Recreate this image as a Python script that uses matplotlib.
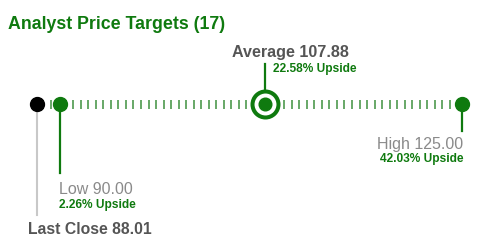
import numpy as np
from matplotlib import pyplot as plt

plt.rcParams['font.family'] = ['Liberation Sans', 'DejaVu Sans']

# price target data
labels = ["Last Close", "Low", "Average", "High"]
prices = [88.01, 90.00, 107.88, 125.00]
upside = [None, "2.26% Upside", "22.58% Upside", "42.03% Upside"]
n_targets = 17

green = "#0f7a0f"
tick_green = "#4e9a4e"
dark = "#555555"
grey = "#8a8a8a"

fig = plt.figure(figsize=(4.8, 2.53), dpi=100)
ax = fig.add_axes([0, 0, 1, 1])
# x in price units, y in pixels from the top
ax.set_xlim(84.814, 126.553)
ax.set_ylim(253, 0)
ax.axis("off")

ybar = 105
last, low, avg, high = prices

# dashed scale
ticks = np.linspace(88.553, 123.94, 55)
ax.vlines(ticks, ybar - 4.5, ybar + 4.5, color=tick_green, lw=1.2, zorder=1)

# stems
ax.plot([last, last], [ybar, 216], color="#c8c8c8", lw=1.5, zorder=2)
ax.plot([low, low], [ybar, 174], color=green, lw=1.6, zorder=2)
ax.plot([avg, avg], [ybar, 65], color=green, lw=1.6, zorder=2)
ax.plot([high, high], [ybar, 132], color=green, lw=1.6, zorder=2)

# markers
ax.plot(last, ybar, "o", color="black", ms=10, zorder=3)
ax.plot(low, ybar, "o", color=green, ms=10, zorder=3)
ax.plot(high, ybar, "o", color=green, ms=10, zorder=3)
ax.plot(avg, ybar, "o", mfc="white", mec=green, mew=2.9, ms=18.7, zorder=3)
ax.plot(avg, ybar, "o", color=green, ms=9.1, zorder=4)

def label(x, dx, y, s, **kw):
    ax.annotate(s, xy=(x, ybar), xytext=(dx, ybar - y),
                textcoords="offset pixels", va="baseline", **kw)

fig.text(8 / 480, 1 - 29 / 253, "Analyst Price Targets (%d)" % n_targets,
         fontsize=12.8, fontweight="bold", color=green, va="baseline")

label(avg, -33, 57, "Average %.2f" % avg, fontsize=11.6, fontweight="bold", color=dark)
label(avg, 8, 72, upside[2], fontsize=8.6, fontweight="bold", color=green)

label(high, 1, 149, "High %.2f" % high, fontsize=11.5, color=grey, ha="right")
label(high, 1, 162, upside[3], fontsize=8.6, fontweight="bold", color=green, ha="right")

label(low, -1, 194, "Low %.2f" % low, fontsize=11.5, color=grey)
label(low, -1, 208, upside[1], fontsize=8.6, fontweight="bold", color=green)

label(last, -9, 234, "Last Close %.2f" % last, fontsize=11.3, fontweight="bold", color=dark)

plt.savefig("out.png", dpi=100)
